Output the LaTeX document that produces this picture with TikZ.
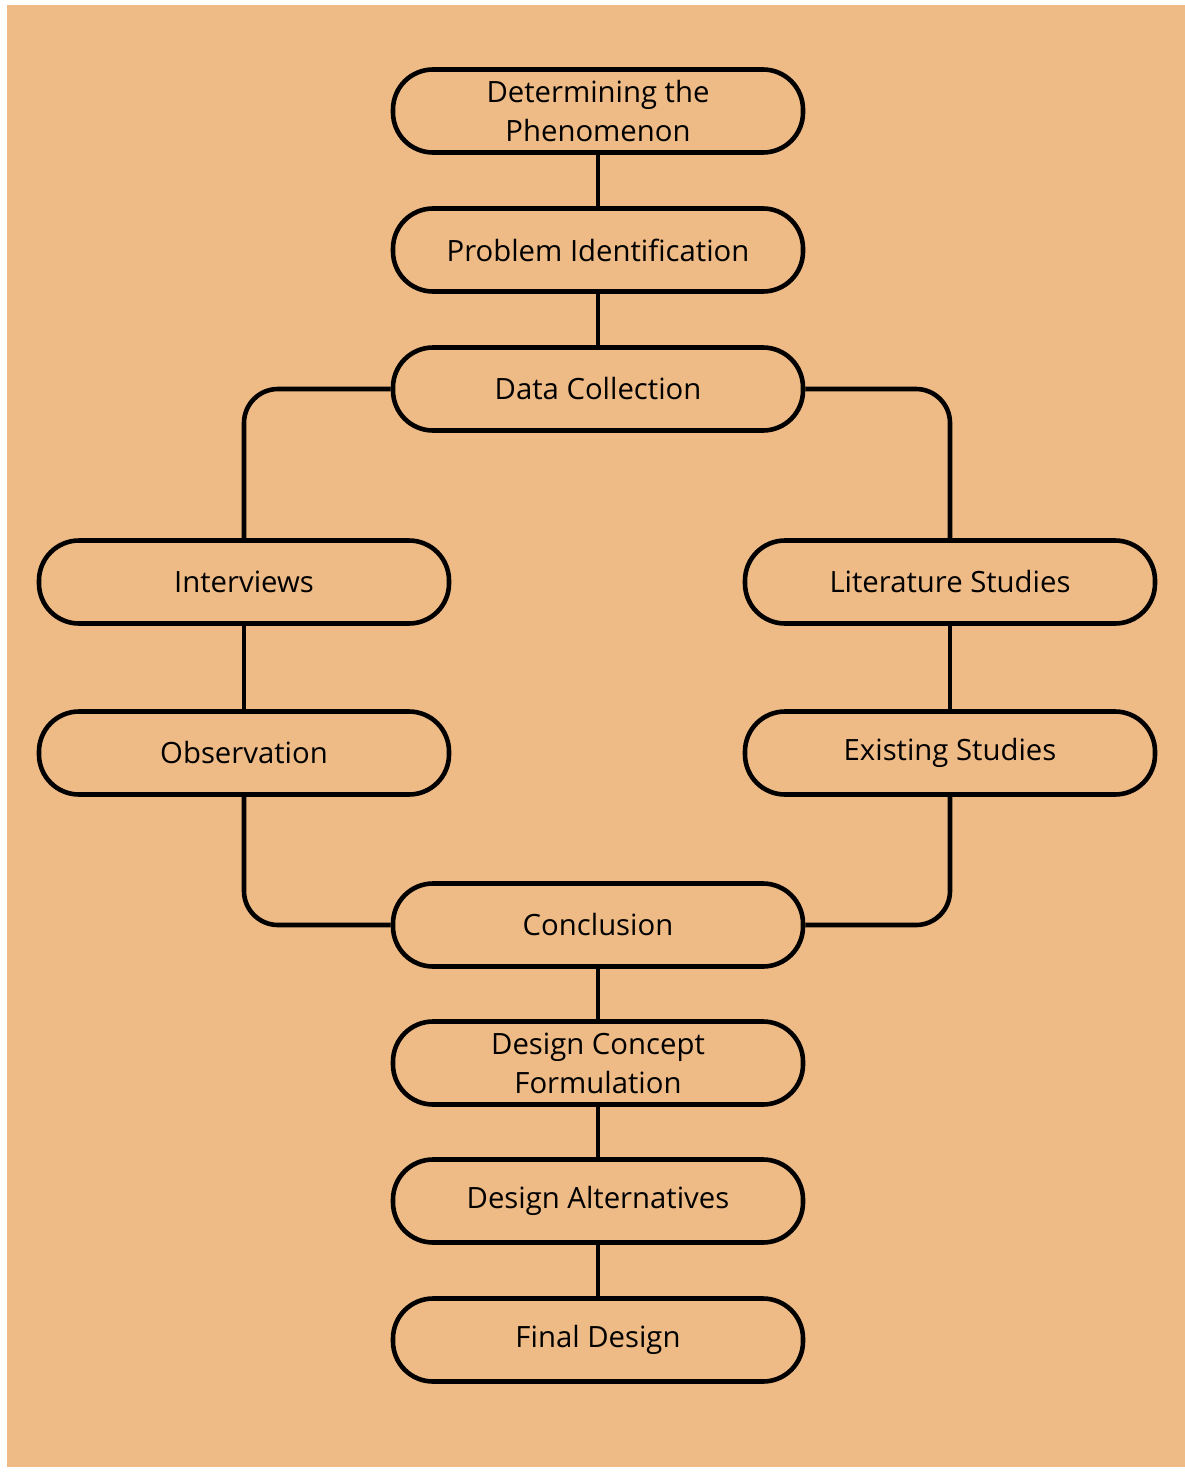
\documentclass[tikz,border=0pt]{standalone}
\usepackage{fontspec}
\setmainfont{Open Sans}
\definecolor{bgorange}{HTML}{EEBA85}
\begin{document}
\begin{tikzpicture}[x=1pt,y=-1pt,
  stage/.style={draw=black, line width=4.6pt, rounded corners=40pt,
    minimum width=410pt, minimum height=83pt, inner sep=0pt, align=center,
    font=\fontsize{29.3}{39}\selectfont, text=black},
  link/.style={draw=black, line width=4.6pt, rounded corners=34pt}]
\useasboundingbox (0,0) rectangle (1185,1472);
\fill[white] (0,0) rectangle (1185,1472);
\fill[bgorange] (7,5) rectangle (1185,1467);
\node[stage] (det) at (598,111) {Determining the\\Phenomenon};
\node[stage] (prob) at (598,250) {Problem Identification};
\node[stage] (data) at (598,389) {Data Collection};
\node[stage] (int) at (244,582) {Interviews};
\node[stage] (lit) at (950,582) {Literature Studies};
\node[stage] (obs) at (244,753) {Observation};
\node[stage] (exist) at (950,753) {Existing Studies};
\node[stage] (conc) at (598,925) {Conclusion};
\node[stage] (concept) at (598,1063) {Design Concept\\Formulation};
\node[stage] (alt) at (598,1201) {Design Alternatives};
\node[stage] (final) at (598,1340) {Final Design};
\draw[link] (det) -- (prob);
\draw[link] (prob) -- (data);
\draw[link] (data.west) -| (int.north);
\draw[link] (data.east) -| (lit.north);
\draw[link] (int) -- (obs);
\draw[link] (lit) -- (exist);
\draw[link] (obs.south) |- (conc.west);
\draw[link] (exist.south) |- (conc.east);
\draw[link] (conc) -- (concept);
\draw[link] (concept) -- (alt);
\draw[link] (alt) -- (final);
\end{tikzpicture}
\end{document}
